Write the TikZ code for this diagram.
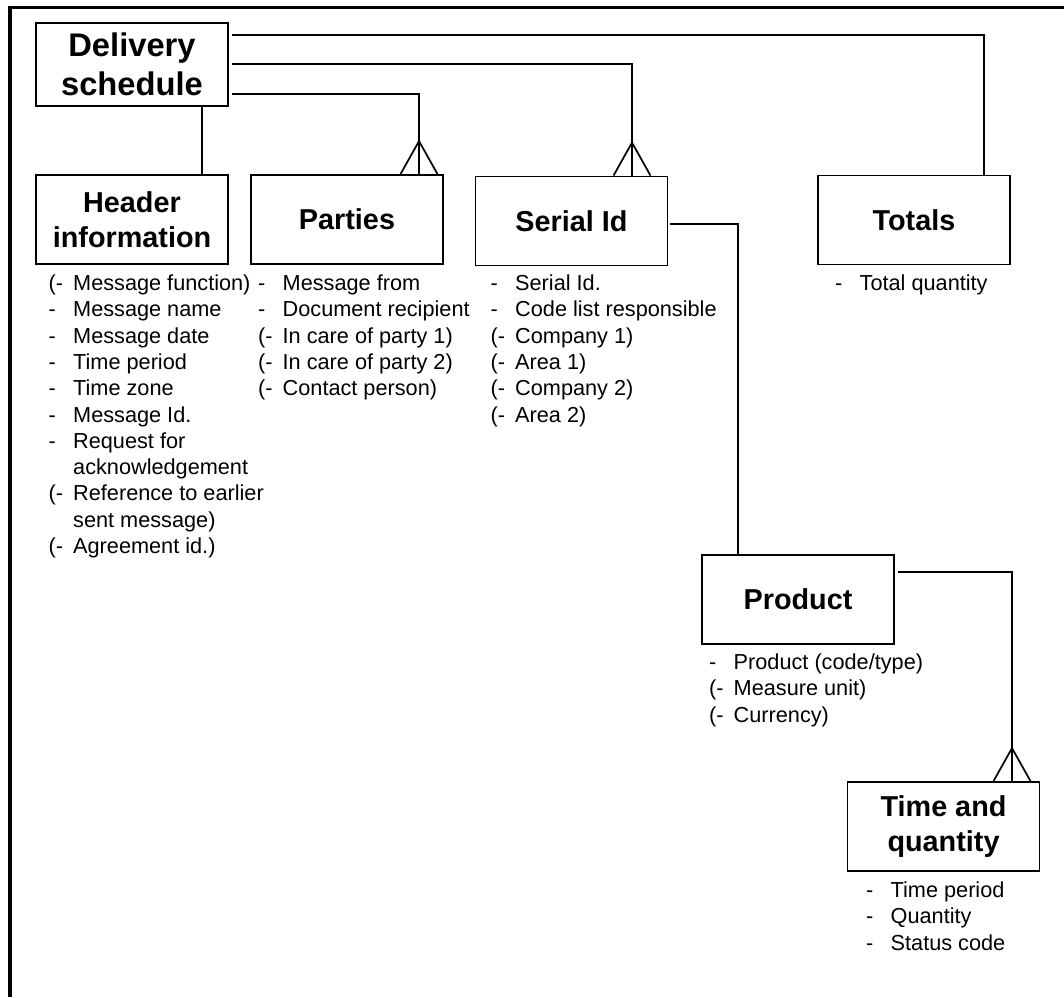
\documentclass[tikz,border=0pt]{standalone}
\usepackage{fontspec}
\setmainfont{Liberation Sans}

\tikzset{
  entity/.style={draw, line width=1.8pt, minimum width=192pt, minimum height=89pt,
    inner sep=0pt, align=center, font=\fontsize{28.8}{34.6}\selectfont\bfseries},
  fieldtext/.style={anchor=base west, inner sep=0pt, font=\fontsize{21.7}{26.3}\selectfont},
  link/.style={line width=1.7pt},
  crow/.pic={\draw[link] (-18.5,0) -- (0,-33) -- (18.5,0);}
}

% #1 x of the marks, #2 first baseline, #3 name, #4 mark/text pairs
\newcommand{\fieldlist}[4]{%
  \foreach \mk/\txt [count=\i from 0] in {#4} {
    \node[fieldtext] (#3-m\i) at (#1, #2+\i*26.3) {\mk};
    \node[fieldtext] (#3-t\i) at (#1+24.5, #2+\i*26.3) {\txt};
  }}

\begin{document}
\begin{tikzpicture}[x=1pt, y=-1pt]
  \useasboundingbox (0,0) rectangle (1064,997);
  \draw [line width=3.6pt] (10,997) -- (10,7.5) -- (1064,7.5);

  \node [entity, minimum height=83pt, font=\fontsize{32.7}{39}\selectfont\bfseries] (ds) at (132,64.5) {Delivery\\schedule};
  \node [entity] (hdr) at (132,219.5) {Header\\information};
  \node [entity] (par) at (347,219.5) {Parties};
  \node [entity] (ser) at (571.5,221) {Serial Id};
  \node [entity] (tot) at (914,220) {Totals};
  \node [entity] (prd) at (798,599.5) {Product};
  \node [entity] (tq) at (943.5,826.5) {Time and\\quantity};

  \draw [link] ([xshift=70pt]ds.south) -- ([xshift=70pt]hdr.north);
  \draw [link, shorten <=3pt] ([yshift=29.5pt]ds.east) -| ([xshift=70pt]tot.north);
  \draw [link, shorten <=3pt] ([yshift=0.5pt]ds.east) -| ([xshift=60.5pt]ser.north);
  \draw [link, shorten <=3pt] ([yshift=-29.5pt]ds.east) -| ([xshift=72pt]par.north);
  \draw [link, shorten <=2pt] ([yshift=-3pt]ser.east) -| ([xshift=-60pt]prd.north);
  \draw [link, shorten <=3pt] ([yshift=27.5pt]prd.east) -| ([xshift=68.5pt]tq.north);

  \pic at ([xshift=72pt]par.north) {crow};
  \pic at ([xshift=60.5pt]ser.north) {crow};
  \pic at ([xshift=68.5pt]tq.north) {crow};

  \fieldlist{48.5}{290.5}{hdr}{{(-}/{Message function)}, {-}/{Message name}, {-}/{Message date},
    {-}/{Time period}, {-}/{Time zone}, {-}/{Message Id.}, {-}/{Request for}, {}/{acknowledgement},
    {(-}/{Reference to earlier}, {}/{sent message)}, {(-}/{Agreement id.)}}
  \fieldlist{258}{290.5}{par}{{-}/{Message from}, {-}/{Document recipient}, {(-}/{In care of party 1)},
    {(-}/{In care of party 2)}, {(-}/{Contact person)}}
  \fieldlist{490.5}{290.5}{ser}{{-}/{Serial Id.}, {-}/{Code list responsible}, {(-}/{Company 1)},
    {(-}/{Area 1)}, {(-}/{Company 2)}, {(-}/{Area 2)}}
  \fieldlist{835}{290.5}{tot}{{-}/{Total quantity}}
  \fieldlist{709}{669.5}{prd}{{-}/{Product (code/type)}, {(-}/{Measure unit)}, {(-}/{Currency)}}
  \fieldlist{866}{897.5}{tq}{{-}/{Time period}, {-}/{Quantity}, {-}/{Status code}}
\end{tikzpicture}
\end{document}
